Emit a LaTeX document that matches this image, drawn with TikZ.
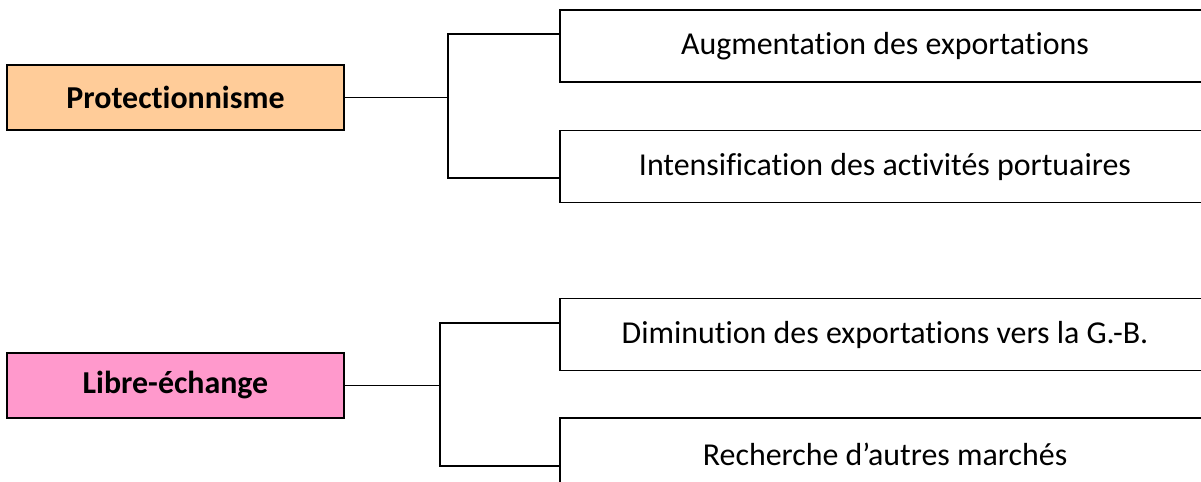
\documentclass[tikz,border=0pt]{standalone}
\usepackage{fontspec}
\setmainfont[Ligatures=NoCommon]{Carlito}
\usepackage{tikz}
\usepackage{xcolor}
\usetikzlibrary{positioning}
\definecolor{myorange}{RGB}{255, 204, 153}
\definecolor{mypink}{RGB}{255, 153, 204}

\begin{document}
\begin{tikzpicture}[
          theme/.style={draw,line width=1.2pt,minimum width=8.425cm,minimum height=1.625cm,
                      inner sep=0pt,align=center,font=\bfseries\fontsize{22.7}{27}\selectfont},
          item/.style={draw,line width=1.2pt,minimum width=16.25cm,minimum height=1.8cm,
                      inner sep=0pt,align=center,font=\fontsize{22.7}{27}\selectfont},
          link/.style={line width=1.2pt}]
        \clip (0,0) rectangle (30.025,-12.05);
        \node[theme,fill=myorange](prot)  at (4.3875,-2.4375){Protectionnisme};
        \node[theme,fill=mypink](libre)   at (4.3875,-9.6375){Libre-échange};
        \node[item](augm)  at (22.125,-1.15){Augmentation des exportations};
        \node[item](intens) at (22.125,-4.1625){Intensification des activités portuaires};
        \node[item](dimin) at (22.125,-8.3625){Diminution des exportations vers la G.-B.};
        \node[item](rech)  at (22.125,-11.35){Recherche d’autres marchés};
        \coordinate (pfork) at (11.2,-2.4375);
        \coordinate (augmin) at (14,-0.85);
        \coordinate (intensin) at (14,-4.45);
        \coordinate (lfork) at (11,-9.6375);
        \coordinate (diminin) at (14,-8.075);
        \coordinate (rechin) at (14,-11.65);
        \draw[link](prot.east)--(pfork);
        \draw[link](augmin)-|(pfork)|-(intensin);
        \draw[link](libre.east)--(lfork);
        \draw[link](diminin)-|(lfork)|-(rechin);
      \end{tikzpicture}
\end{document}
